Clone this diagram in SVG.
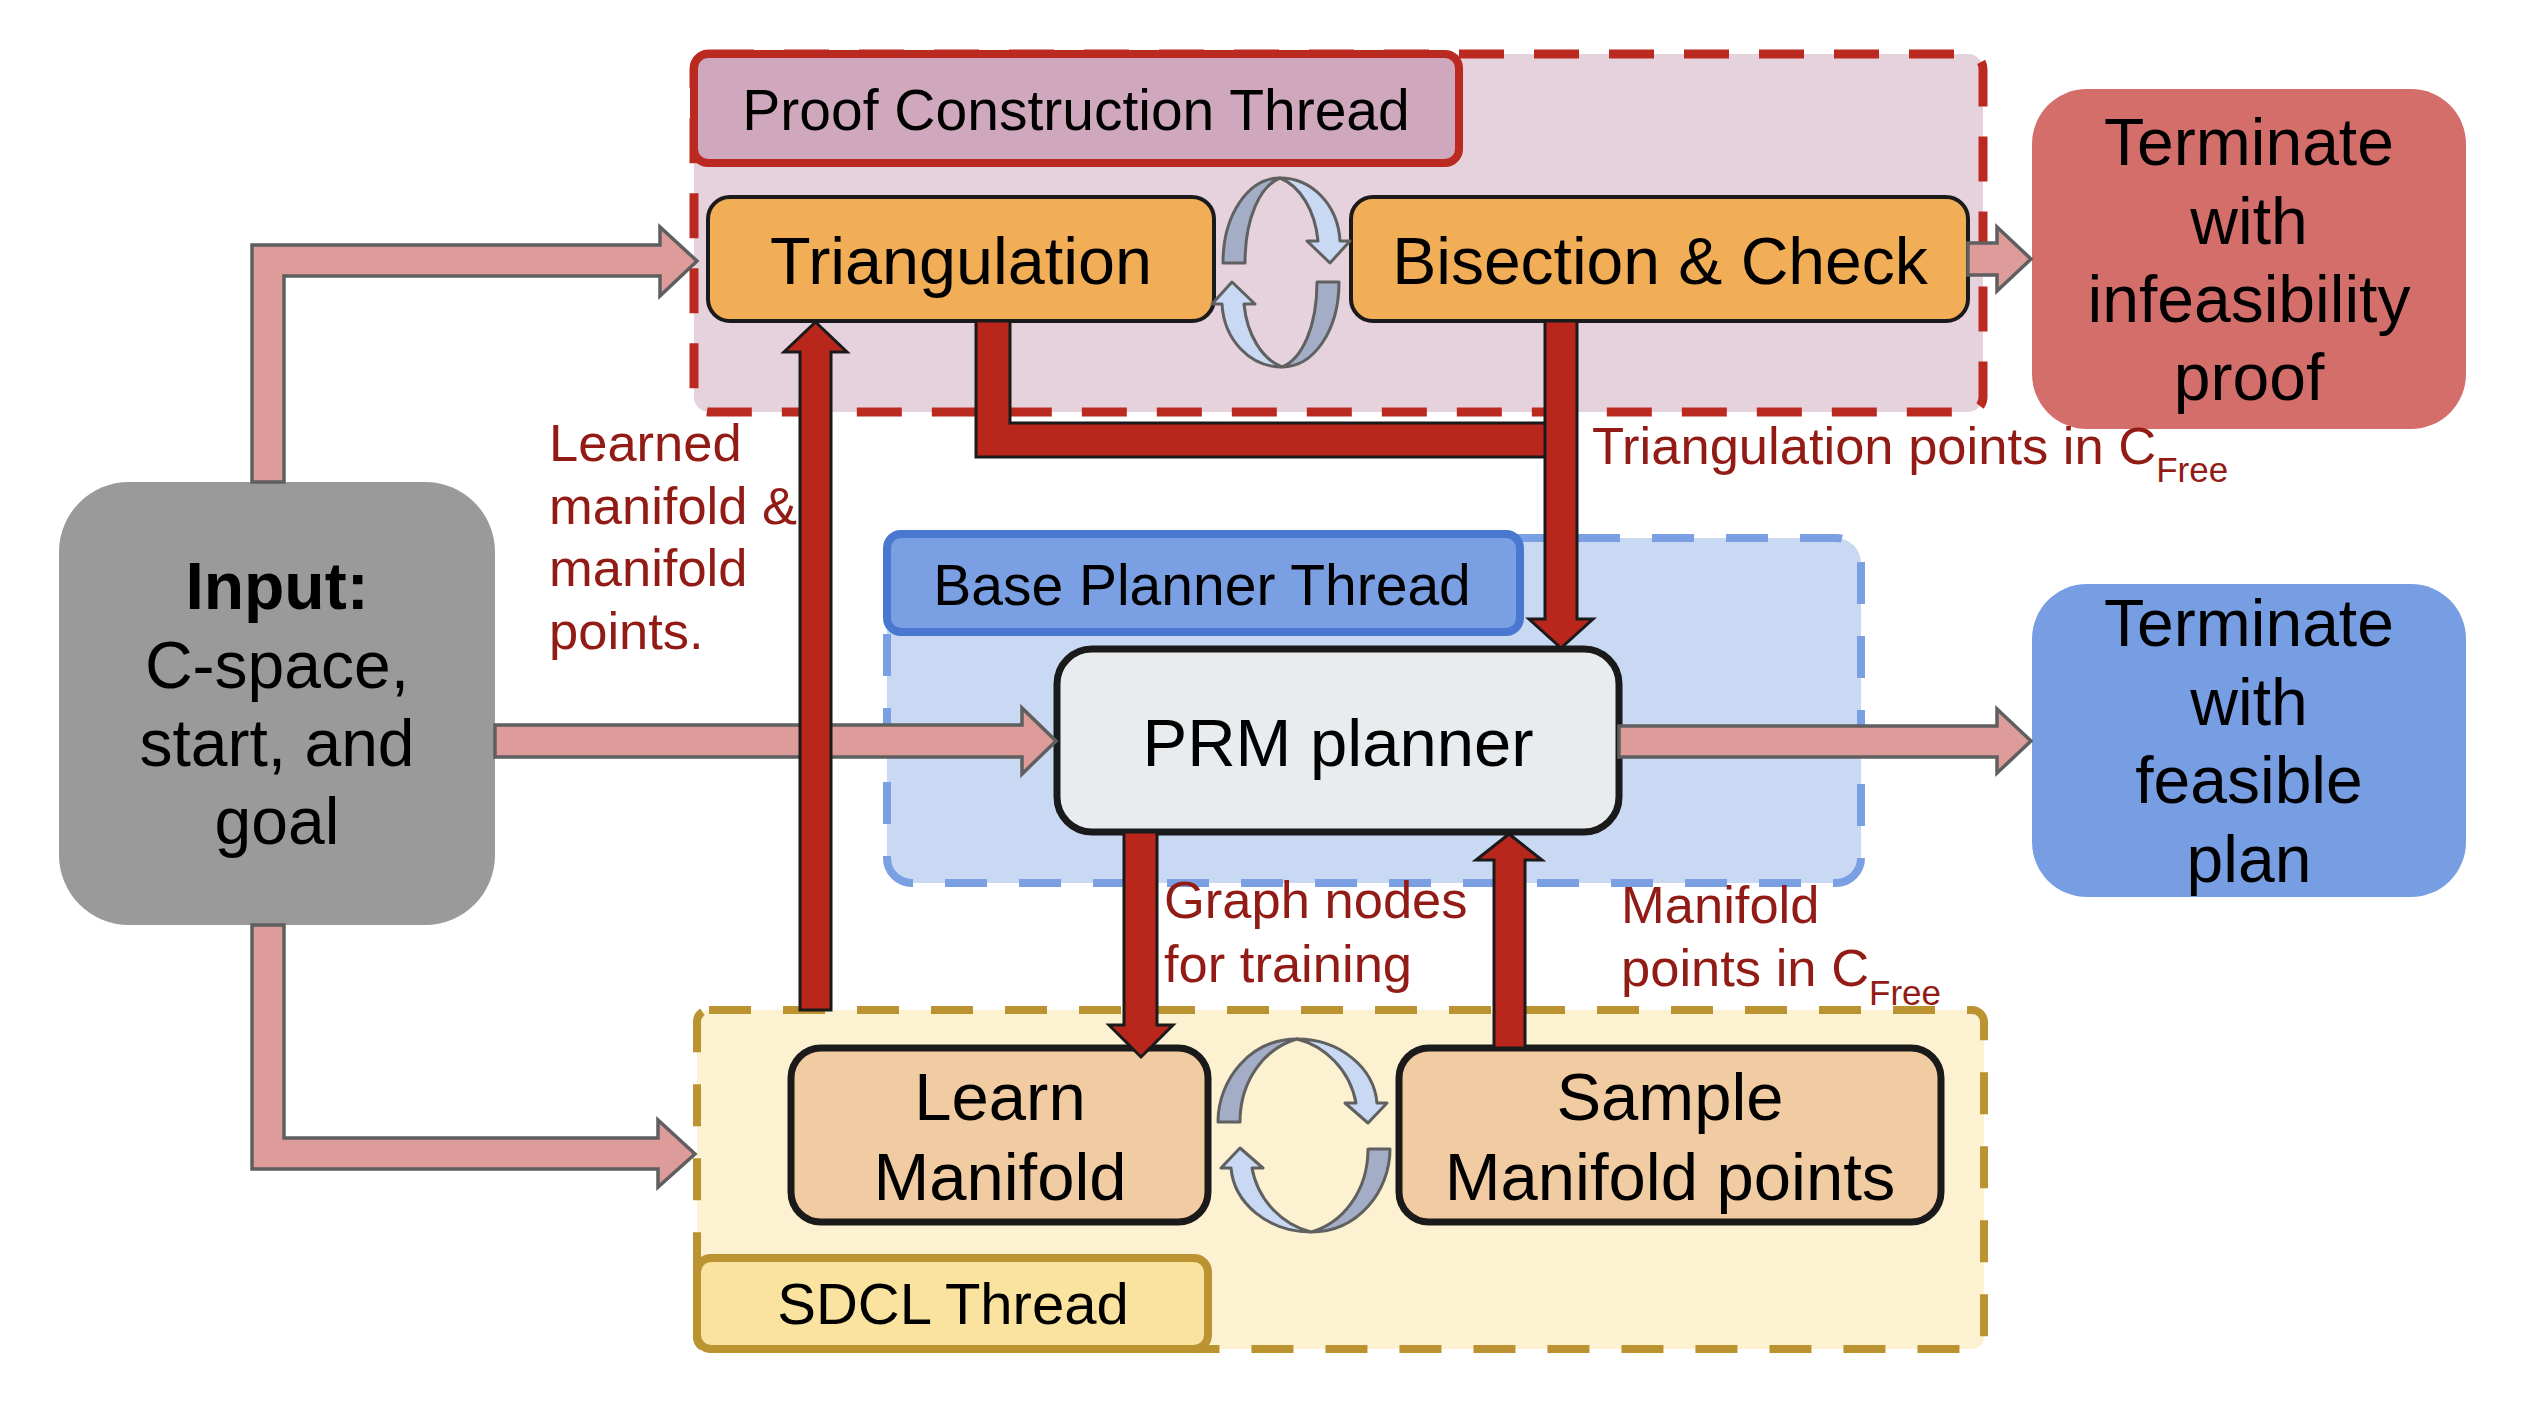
<svg xmlns="http://www.w3.org/2000/svg" width="2544" height="1414" viewBox="0 0 2544 1414">
<style>
text{font-family:"Liberation Sans",Arial,Helvetica,sans-serif;fill:#000}
.lbl{fill:#921b16;font-size:52.5px}
.mid{text-anchor:middle}
.box{stroke:#1a1a1a}
.pink{fill:#dd9b99;stroke:#5f5f5f;stroke-width:3.5;stroke-linejoin:miter}
.red{fill:#b9261c;stroke:#1a1a1a;stroke-width:3;stroke-linejoin:miter}
.cl{fill:#c9d9f3;stroke:#606060;stroke-width:3;stroke-linejoin:round}
.cd{fill:#a3aec6;stroke:#606060;stroke-width:3;stroke-linejoin:round}
</style>
<rect width="2544" height="1414" fill="#fff"/>

<g id="proof-thread">
<rect x="694" y="54" width="1289" height="358" rx="15" fill="#e6d2dc" stroke="#bb2a20" stroke-width="9" stroke-dasharray="45 30"/>
<rect x="694" y="54" width="765" height="109" rx="14" fill="#cfa8bd" stroke="#bb2a20" stroke-width="8"/>
<text class="mid" x="1076" y="130" font-size="57">Proof Construction Thread</text>
</g>
<g id="base-thread">
<rect x="887" y="538" width="974" height="345" rx="25" fill="#cad9f3" stroke="#7a9fe3" stroke-width="8" stroke-dasharray="42 32"/>
<rect x="887" y="534" width="633" height="98" rx="14" fill="#7a9fe3" stroke="#4a78d1" stroke-width="8"/>
<text class="mid" x="1202" y="605" font-size="57">Base Planner Thread</text>
</g>
<g id="sdcl-thread">
<rect x="697" y="1010" width="1287" height="339" rx="12" fill="#fcf1d0" stroke="#bb9331" stroke-width="8" stroke-dasharray="42 32"/>
<rect x="697" y="1258" width="511" height="91" rx="14" fill="#f9e39f" stroke="#bb9331" stroke-width="8"/>
<text class="mid" x="953" y="1324" font-size="58">SDCL Thread</text>
</g>

<g id="input">
<rect x="59" y="482" width="436" height="443" rx="70" fill="#9a9a9a"/>
<text class="mid" x="277" y="609" font-size="66" font-weight="bold">Input:</text>
<text class="mid" x="277" y="688" font-size="66">C-space,</text>
<text class="mid" x="277" y="766" font-size="66">start, and</text>
<text class="mid" x="277" y="844" font-size="66">goal</text>
</g>
<g id="triangulation">
<rect class="box" x="708" y="197" width="506" height="124" rx="22" fill="#f2ae56" stroke-width="4"/>
<text class="mid" x="961" y="284" font-size="66.5">Triangulation</text>
</g>
<g id="bisection">
<rect class="box" x="1351" y="197" width="617" height="124" rx="22" fill="#f2ae56" stroke-width="4"/>
<text class="mid" x="1660" y="284" font-size="66">Bisection &amp; Check</text>
</g>
<g id="prm">
<rect class="box" x="1057" y="649" width="562" height="183" rx="35" fill="#e8ecee" stroke-width="7"/>
<text class="mid" x="1338" y="766" font-size="67">PRM planner</text>
</g>
<g id="learn">
<rect class="box" x="791" y="1048" width="417" height="174" rx="30" fill="#f1cba1" stroke-width="7"/>
<text class="mid" x="1000" y="1120" font-size="67">Learn</text>
<text class="mid" x="1000" y="1200" font-size="67">Manifold</text>
</g>
<g id="sample">
<rect class="box" x="1399" y="1048" width="542" height="174" rx="30" fill="#f1cba1" stroke-width="7"/>
<text class="mid" x="1670" y="1120" font-size="67">Sample</text>
<text class="mid" x="1670" y="1200" font-size="67">Manifold points</text>
</g>
<g id="term-infeasible">
<rect x="2032" y="89" width="434" height="340" rx="55" fill="#d36e6b"/>
<text class="mid" x="2249" y="165" font-size="66">Terminate</text>
<text class="mid" x="2249" y="244" font-size="66">with</text>
<text class="mid" x="2249" y="322" font-size="66">infeasibility</text>
<text class="mid" x="2249" y="400" font-size="66">proof</text>
</g>
<g id="term-feasible">
<rect x="2032" y="584" width="434" height="313" rx="55" fill="#779de3"/>
<text class="mid" x="2249" y="646" font-size="66">Terminate</text>
<text class="mid" x="2249" y="725" font-size="66">with</text>
<text class="mid" x="2249" y="803" font-size="66">feasible</text>
<text class="mid" x="2249" y="882" font-size="66">plan</text>
</g>

<g id="connectors">
<polygon class="pink" points="252,482 252,245 660,245 660,227 697,261 660,296 660,276 284,276 284,482"/>
<polygon class="pink" points="252,925 252,1169 658,1169 658,1187 695,1154 658,1120 658,1138 284,1138 284,925"/>
<polygon class="pink" points="495,725 1022,725 1022,708 1056,741 1022,774 1022,757 495,757"/>
<polygon class="pink" points="1619,726 1997,726 1997,709 2031,741 1997,773 1997,757 1619,757"/>
<polygon class="pink" points="1968,243 1997,243 1997,227 2031,259 1997,291 1997,275 1968,275"/>

<polygon class="red" points="800,1010 800,352 784,352 815.5,322 847,352 831,352 831,1010"/>
<polygon class="red" points="976,321 976,457 1547,457 1547,423 1010,423 1010,321"/>
<polygon class="red" points="1545,321 1545,619 1529,619 1561,648 1593,619 1577,619 1577,321"/>
<polygon class="red" points="1124,832 1124,1025 1109,1025 1141,1057 1173,1025 1157,1025 1157,832"/>
<polygon class="red" points="1494,1048 1494,860 1476,860 1509,834 1542,860 1525,860 1525,1048"/>

<g id="cycle-proof">
<path class="cd" d="M1280,178 C1248,178 1223,215 1223,263 L1245,263 C1245,218 1260,186 1280,178 Z"/>
<path class="cl" d="M1280,178 C1312,178 1338,205 1340,241 L1350,241 L1330,263 L1307,241 L1318,241 C1315,210 1300,186 1280,178 Z"/>
<g transform="rotate(180 1281 272.5)">
<path class="cd" d="M1280,178 C1248,178 1223,215 1223,263 L1245,263 C1245,218 1260,186 1280,178 Z"/>
<path class="cl" d="M1280,178 C1312,178 1338,205 1340,241 L1350,241 L1330,263 L1307,241 L1318,241 C1315,210 1300,186 1280,178 Z"/>
</g>
</g>
<g id="cycle-sdcl">
<path class="cd" d="M1297,1039 C1250,1039 1218,1080 1218,1122 L1240,1122 C1240,1080 1265,1048 1297,1039 Z"/>
<path class="cl" d="M1297,1039 C1340,1039 1374,1068 1377,1103 L1387,1103 L1368,1123 L1345,1103 L1356,1103 C1350,1070 1325,1046 1297,1039 Z"/>
<g transform="rotate(180 1304 1135.5)">
<path class="cd" d="M1297,1039 C1250,1039 1218,1080 1218,1122 L1240,1122 C1240,1080 1265,1048 1297,1039 Z"/>
<path class="cl" d="M1297,1039 C1340,1039 1374,1068 1377,1103 L1387,1103 L1368,1123 L1345,1103 L1356,1103 C1350,1070 1325,1046 1297,1039 Z"/>
</g>
</g>

<g id="edge-labels">
<text class="lbl" x="549" y="461">Learned</text>
<text class="lbl" x="549" y="524">manifold &amp;</text>
<text class="lbl" x="549" y="586">manifold</text>
<text class="lbl" x="549" y="649">points.</text>
<text class="lbl" x="1592" y="464">Triangulation points in C<tspan font-size="35" dy="18">Free</tspan></text>
<text class="lbl" x="1164" y="918">Graph nodes</text>
<text class="lbl" x="1164" y="982">for training</text>
<text class="lbl" x="1621" y="923">Manifold</text>
<text class="lbl" x="1621" y="986">points in C<tspan font-size="35" dy="19">Free</tspan></text>
</g>
</g>
</svg>
